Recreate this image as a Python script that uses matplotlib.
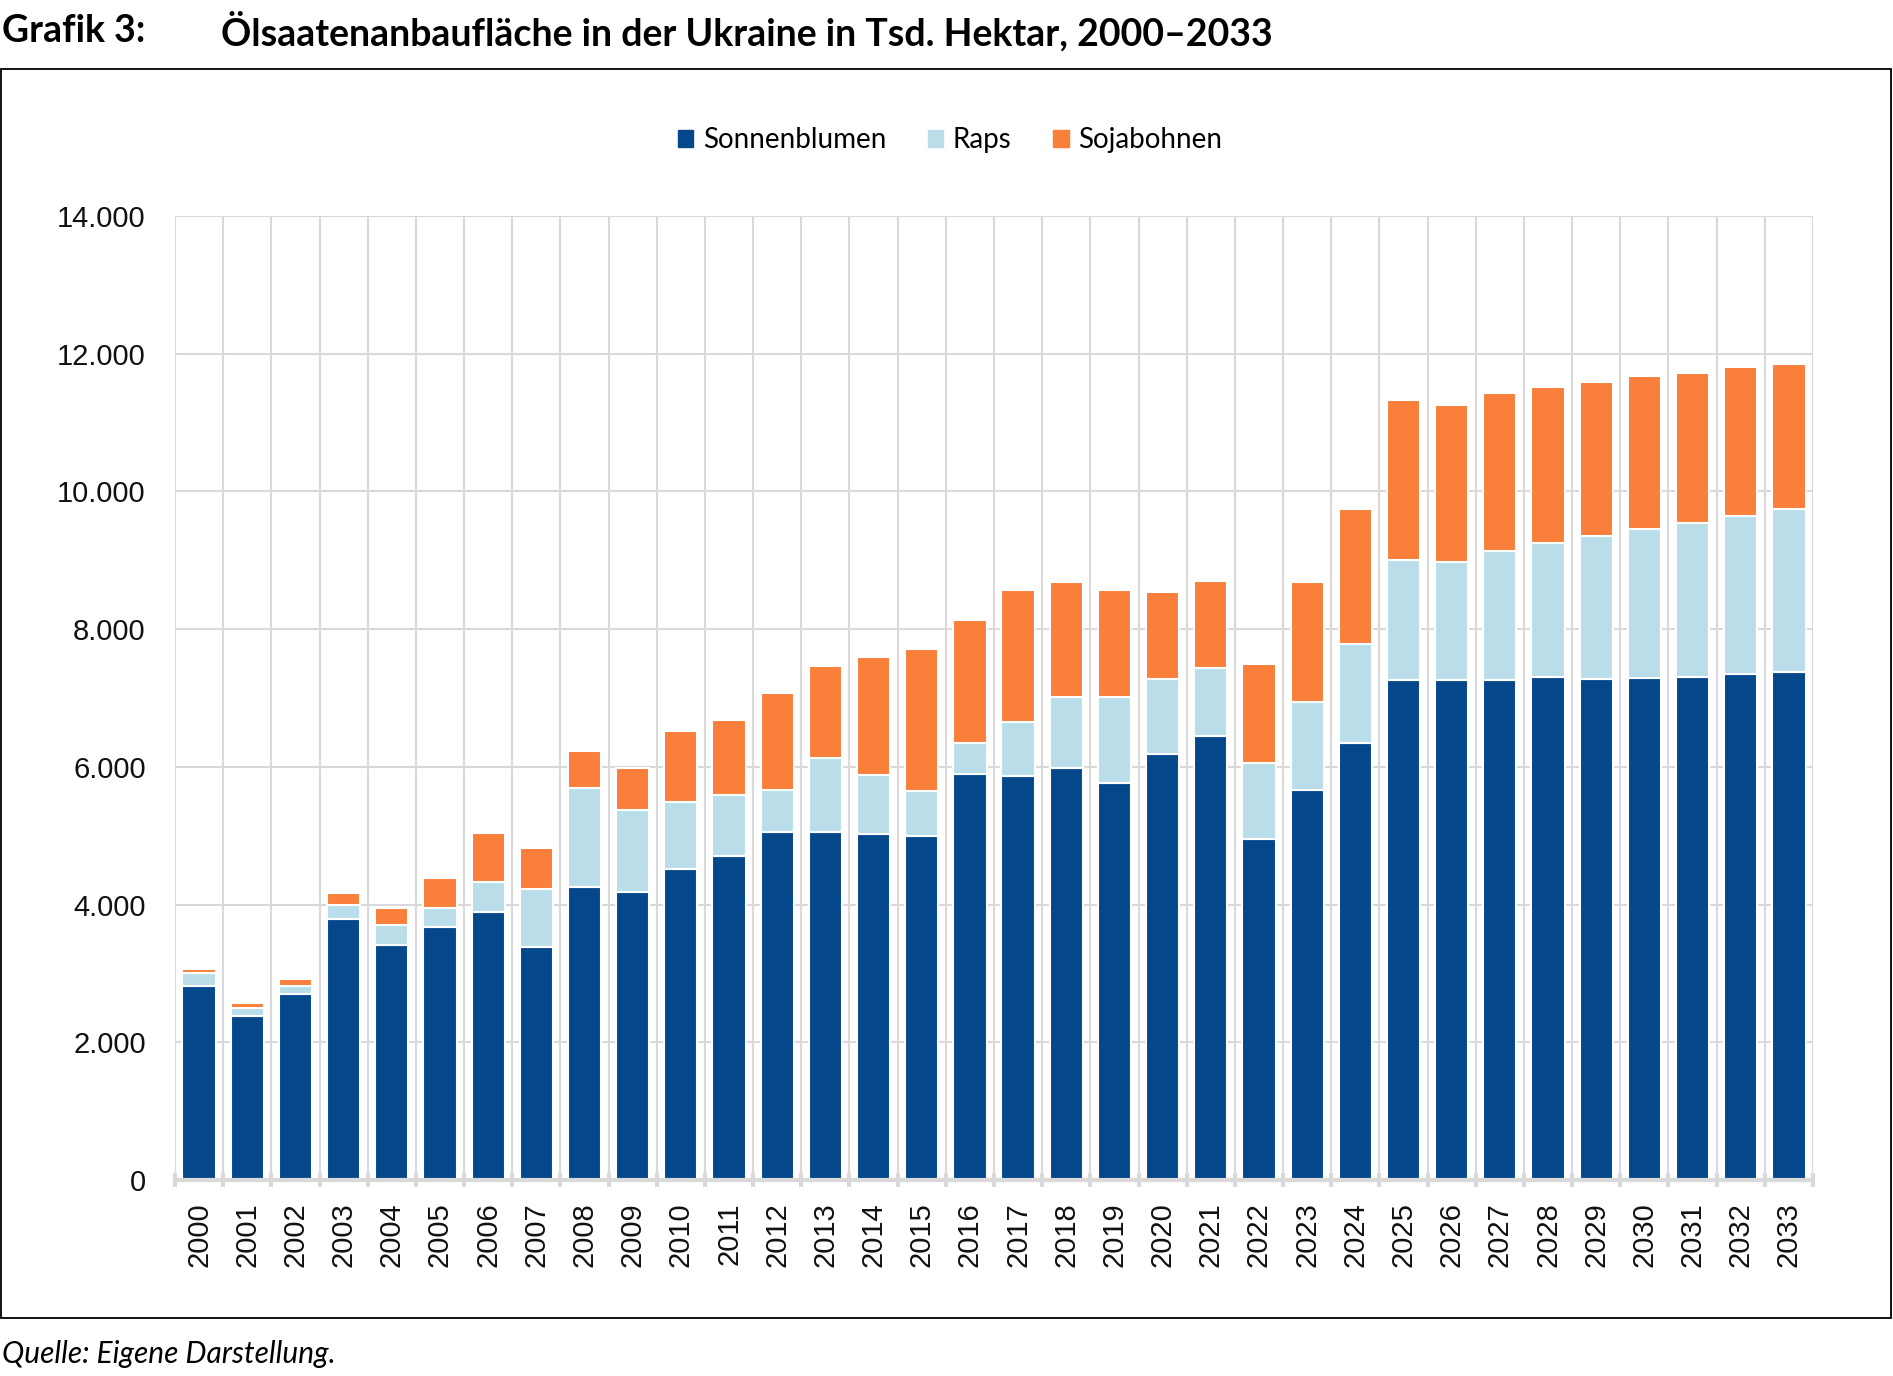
import matplotlib
matplotlib.use("Agg")
import matplotlib.pyplot as plt
from matplotlib.patches import Rectangle
from matplotlib.ticker import FuncFormatter, MultipleLocator
import numpy as np

years = [str(y) for y in range(2000, 2034)]
sonnenblumen = [2820, 2380, 2700, 3790, 3410, 3670, 3890, 3390, 4260, 4180,
                4510, 4700, 5060, 5060, 5030, 4990, 5890, 5870, 5980, 5770,
                6190, 6450, 4950, 5660, 6350, 7260, 7260, 7260, 7300, 7270,
                7290, 7310, 7350, 7380]
raps = [190, 115, 120, 200, 295, 275, 440, 830, 1440, 1190,
        980, 890, 610, 1070, 850, 660, 450, 780, 1030, 1250,
        1080, 980, 1110, 1280, 1430, 1750, 1720, 1880, 1950, 2080,
        2160, 2230, 2300, 2360]
soja = [60, 70, 100, 175, 245, 435, 710, 600, 530, 610,
        1030, 1090, 1400, 1340, 1720, 2060, 1790, 1920, 1670, 1550,
        1270, 1270, 1430, 1750, 1970, 2320, 2280, 2290, 2260, 2240,
        2220, 2180, 2150, 2110]
series_names = ["Sonnenblumen", "Raps", "Sojabohnen"]
colors = ["#04478A", "#BADEE9", "#F97F3A"]

W, H = 1893, 1376
fig = plt.figure(figsize=(W / 100, H / 100), dpi=100)

ax = fig.add_axes([175 / W, 1 - 1180 / H, (1813 - 175) / W, (1180 - 216) / H])

x = np.arange(len(years))
s = np.array(sonnenblumen)
r = np.array(raps)
j = np.array(soja)
bw = 0.69
ax.bar(x, s, bw, color=colors[0], edgecolor="white", linewidth=1.5, zorder=3)
ax.bar(x, r, bw, bottom=s, color=colors[1], edgecolor="white", linewidth=1.5, zorder=3)
ax.bar(x, j, bw, bottom=s + r, color=colors[2], edgecolor="white", linewidth=1.5, zorder=3)

ax.set_xlim(-0.5, len(years) - 0.5)
ax.set_ylim(0, 14000)
ax.yaxis.set_major_locator(MultipleLocator(2000))
ax.yaxis.set_major_formatter(FuncFormatter(lambda v, p: f"{int(v):,}".replace(",", ".")))

grid_c = "#D9D9D9"
ax.grid(axis="y", color=grid_c, linewidth=1.5, zorder=0)
for b in np.arange(-0.5, len(years), 1.0):
    ax.axvline(b, color=grid_c, linewidth=1.5, zorder=0)

for sp in ["top", "right", "left"]:
    ax.spines[sp].set_visible(False)
ax.spines["bottom"].set_color(grid_c)
ax.spines["bottom"].set_linewidth(3)
ax.spines["bottom"].set_zorder(4)

ax.set_xticks(x)
ax.set_xticklabels(years, rotation=90, fontsize=21, family="Liberation Sans", color="#111111")
ax.tick_params(axis="x", length=0, pad=16)
ax.set_xticks(np.arange(-0.5, len(years), 1.0), minor=True)
ax.tick_params(axis="x", which="minor", length=10, width=3, color=grid_c, direction="inout")
ax.tick_params(axis="y", length=0, pad=21, labelsize=21, labelcolor="#111111")
for lab in ax.get_yticklabels():
    lab.set_family("Liberation Sans")

handles = [Rectangle((0, 0), 1, 1, color=c) for c in colors]
fig.legend(handles, series_names, loc="center", bbox_to_anchor=(950 / W, 1 - 140 / H),
           ncol=3, frameon=False, prop={"family": "Lato", "size": 20},
           handlelength=0.55, handleheight=0.55, handletextpad=0.35, columnspacing=1.5)

fig.text(2 / W, 1 - 31 / H, "Grafik 3:", fontsize=27, fontweight="bold", family="Lato",
         va="center", ha="left")
fig.text(221 / W, 1 - 31 / H, "Ölsaatenanbaufläche in der Ukraine in Tsd. Hektar, 2000–2033",
         fontsize=27, fontweight="bold", family="Lato", va="center", ha="left")

fig.patches.append(Rectangle((1 / W, 1 - 1318 / H), 1890 / W, (1318 - 69) / H,
                             transform=fig.transFigure, fill=False, edgecolor="black",
                             linewidth=1.3))

fig.text(2 / W, 1 - 1354 / H, "Quelle: Eigene Darstellung.", fontsize=21.5, style="italic",
         family="Lato", va="center", ha="left")

fig.savefig("out.png", dpi=100)
